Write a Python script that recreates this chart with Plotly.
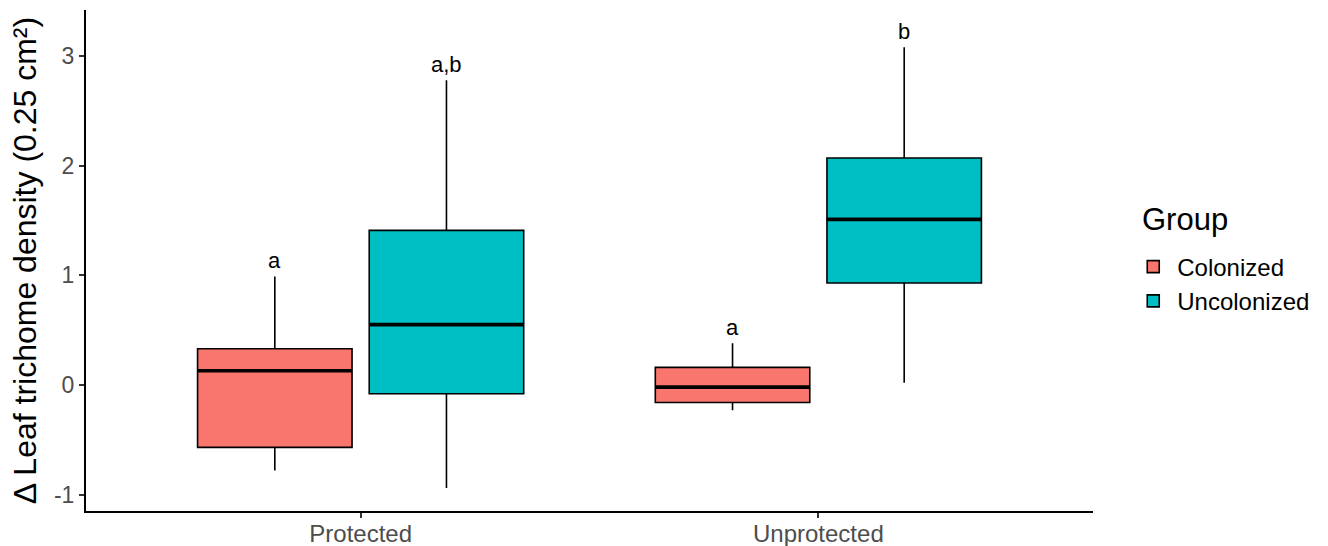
import plotly.graph_objects as go

# Summary statistics per treatment and group
treatments = ["Protected", "Unprotected"]
groups = ["Colonized", "Uncolonized"]
colors = {"Colonized": "#F8766D", "Uncolonized": "#00BFC4"}

lower_whisker = {"Colonized": [-0.78, -0.23], "Uncolonized": [-0.94, 0.02]}
q1 = {"Colonized": [-0.57, -0.16], "Uncolonized": [-0.08, 0.93]}
median = {"Colonized": [0.13, -0.02], "Uncolonized": [0.55, 1.51]}
q3 = {"Colonized": [0.33, 0.16], "Uncolonized": [1.41, 2.07]}
upper_whisker = {"Colonized": [0.99, 0.38], "Uncolonized": [2.78, 3.08]}

# Significance letters shown above each box
letters = {"Colonized": ["a", "a"], "Uncolonized": ["a,b", "b"]}

# y-axis ticks
y_ticks = [-1, 0, 1, 2, 3]
y_tick_labels = ["-1", "0", "1", "2", "3"]

FONT = "Liberation Sans, Arial"

fig = go.Figure()
for g in groups:
    fig.add_trace(go.Box(
        name=g,
        x=treatments,
        q1=q1[g], median=median[g], q3=q3[g],
        lowerfence=lower_whisker[g], upperfence=upper_whisker[g],
        fillcolor=colors[g],
        line=dict(color="#000000", width=1.6),
        whiskerwidth=0,
        boxpoints=False,
        hoverinfo="skip",
    ))

# Thicker median bars drawn over the boxes (ggplot style)
boxgap, groupgap = 0.25, 0.1
slot = (1 - boxgap) / len(groups)
half_w = slot * (1 - groupgap) / 2
for gi, g in enumerate(groups):
    offset = -(1 - boxgap) / 2 + slot * (gi + 0.5)
    for ti, t in enumerate(treatments):
        cx = ti + offset
        fig.add_shape(type="line", xref="x", yref="y",
                      x0=cx - half_w, x1=cx + half_w,
                      y0=median[g][ti], y1=median[g][ti],
                      line=dict(color="#000000", width=3.6))
        fig.add_annotation(x=cx, y=upper_whisker[g][ti], text=letters[g][ti],
                           showarrow=False, yanchor="bottom", yshift=1,
                           font=dict(size=22, color="#000000", family=FONT))

# Legend heading
fig.add_annotation(x=1.047, y=0.581, xref="paper", yref="paper",
                   text="Group", showarrow=False, xanchor="left", yanchor="middle",
                   font=dict(size=31, color="#000000", family=FONT))

fig.update_layout(
    width=1328, height=546,
    margin=dict(l=86, r=235, t=10, b=35),
    paper_bgcolor="#FFFFFF", plot_bgcolor="#FFFFFF",
    boxmode="group", boxgap=boxgap, boxgroupgap=groupgap,
    font=dict(family=FONT, color="#4D4D4D"),
    legend=dict(
        font=dict(size=24, color="#000000"),
        x=1.036, xanchor="left", y=0.453, yanchor="middle",
        tracegroupgap=0, itemwidth=38,
    ),
    xaxis=dict(
        range=[-0.6, 1.6], showline=True, linecolor="#000000", linewidth=2,
        ticks="outside", tickcolor="#333333", ticklen=5, tickwidth=2,
        tickfont=dict(size=24, color="#4D4D4D"), ticklabelstandoff=-5,
        showgrid=False, zeroline=False, automargin=False,
    ),
    yaxis=dict(
        range=[-1.15, 3.42], tickvals=y_ticks, ticktext=y_tick_labels,
        showline=True, linecolor="#000000", linewidth=2,
        ticks="outside", tickcolor="#333333", ticklen=5, tickwidth=2,
        tickfont=dict(size=23, color="#4D4D4D"),
        showgrid=False, zeroline=False, automargin=False,
        title=dict(text="Δ Leaf trichome density (0.25 cm²)",
                   font=dict(size=32, color="#000000"), standoff=8),
    ),
)

fig.write_html("out.html")
